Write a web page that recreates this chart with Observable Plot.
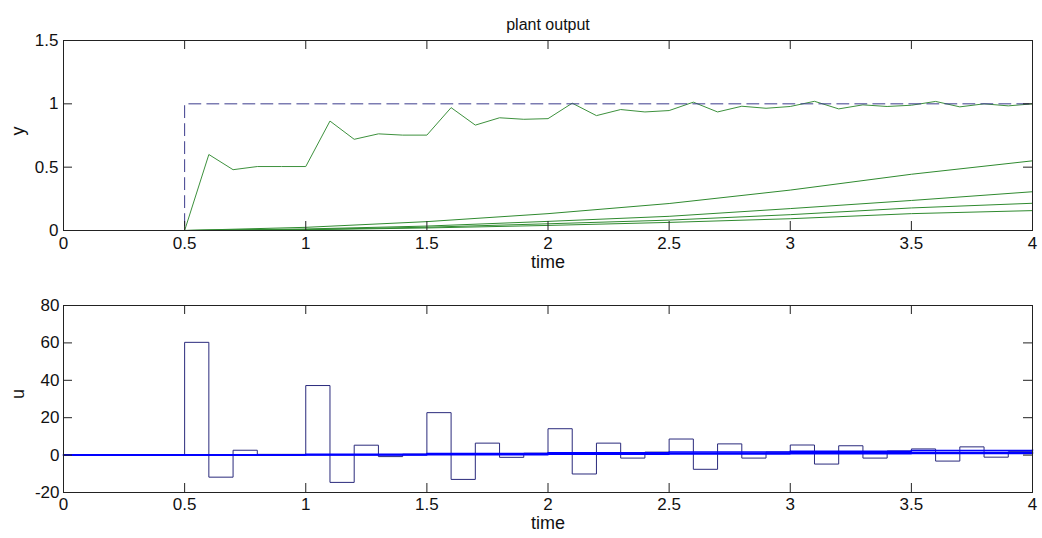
<!DOCTYPE html>
<html>
<head>
<meta charset="utf-8">
<script src="https://cdn.jsdelivr.net/npm/d3@7"></script>
<script src="https://cdn.jsdelivr.net/npm/@observablehq/plot@0.6"></script>
<style>
  html, body { margin: 0; padding: 0; background: #fff; }
  #chart { width: 1042px; height: 538px; overflow: hidden; }
  svg { display: block; }
</style>
</head>
<body>
<div id="chart"></div>
<script>
// ---------- data ----------
const titleText = "plant output";
const xLabel = "time";
const yLabelTop = "y";
const yLabelBottom = "u";

const xTicks = [0, 0.5, 1, 1.5, 2, 2.5, 3, 3.5, 4];
const xTickLabels = ["0", "0.5", "1", "1.5", "2", "2.5", "3", "3.5", "4"];
const yTicksTop = [0, 0.5, 1, 1.5];
const yTickLabelsTop = ["0", "0.5", "1", "1.5"];
const yTicksBottom = [-20, 0, 20, 40, 60, 80];
const yTickLabelsBottom = ["-20", "0", "20", "40", "60", "80"];

// sample times (0.1 s)
const sampleT = [0, 0.1, 0.2, 0.3, 0.4, 0.5, 0.6, 0.7, 0.8, 0.9,
                 1.0, 1.1, 1.2, 1.3, 1.4, 1.5, 1.6, 1.7, 1.8, 1.9,
                 2.0, 2.1, 2.2, 2.3, 2.4, 2.5, 2.6, 2.7, 2.8, 2.9,
                 3.0, 3.1, 3.2, 3.3, 3.4, 3.5, 3.6, 3.7, 3.8, 3.9, 4.0];

// reference (dashed)
const refT = [0, 0.5, 0.5, 4];
const refV = [0, 0, 1, 1];

// main plant output
const yOut = [0, 0, 0, 0, 0, 0, 0.60, 0.48, 0.505, 0.505,
              0.505, 0.864, 0.72, 0.763, 0.753, 0.753, 0.97, 0.832, 0.89, 0.878,
              0.883, 1.005, 0.907, 0.955, 0.936, 0.947, 1.013, 0.936, 0.981, 0.965,
              0.979, 1.02, 0.96, 0.992, 0.979, 0.989, 1.019, 0.976, 1.0, 0.984, 1.0];

// slow plant outputs
const slowT = [0.5, 1.0, 1.5, 2.0, 2.5, 3.0, 3.5, 4.0];
const slowA = [0, 0.025, 0.07, 0.133, 0.213, 0.319, 0.444, 0.55];
const slowB = [0, 0.012, 0.035, 0.072, 0.112, 0.173, 0.237, 0.306];
const slowC = [0, 0.008, 0.026, 0.053, 0.082, 0.125, 0.178, 0.215];
const slowD = [0, 0.006, 0.02, 0.04, 0.064, 0.093, 0.133, 0.157];

// main control signal (zero-order hold)
const uMain = [0, 0, 0, 0, 0, 60.3, -11.8, 2.6, 0.4, 0.4,
               37.2, -14.6, 5.3, -0.8, 0.5, 22.7, -13.0, 6.4, -1.2, 1.0,
               14.1, -10.1, 6.4, -1.6, 1.6, 8.6, -7.6, 6.0, -1.6, 1.6,
               5.4, -4.8, 5.0, -1.6, 2.2, 3.3, -3.2, 4.4, -1.1, 1.8, 1.8];

// slow control signals (thick blue)
const uSlowT = [0, 0.5, 1.0, 1.5, 2.0, 2.5, 3.0, 3.5, 4.0];
const uSlow1 = [0, 0, 0.4, 0.8, 1.2, 1.6, 2.0, 2.4, 2.8];
const uSlow2 = [0, 0, 0.2, 0.45, 0.7, 0.95, 1.2, 1.45, 1.7];
const uSlow3 = [0, 0, 0.1, 0.25, 0.4, 0.55, 0.7, 0.85, 1.0];

// ---------- layout ----------
const W = 1042;
const mL = 63, mR = 10;
const tickLen = 9;
const font = "Liberation Sans, Arial, Helvetica, sans-serif";
const fsTick = 17;
const fsLabel = 18;
const fsTitle = 16;
const frameW = W - mL - mR;

const zip = (xs, ys) => xs.map((x, i) => ({x, y: ys[i]}));
const fmt = (ticks, labels) => d => labels[ticks.indexOf(d)];

function tickMarks(xt, yt, frameH) {
  return [
    Plot.ruleX(xt, {x: d => d, insetTop: frameH - tickLen, stroke: "#222"}),
    Plot.ruleX(xt, {x: d => d, insetBottom: frameH - tickLen, stroke: "#222"}),
    Plot.ruleY(yt, {y: d => d, insetRight: frameW - tickLen, stroke: "#222"}),
    Plot.ruleY(yt, {y: d => d, insetLeft: frameW - tickLen, stroke: "#222"})
  ];
}

// ---------- top plot ----------
const topH = 280, topMT = 40, topMB = 50;
const topFrameH = topH - topMT - topMB;
const green = "#2f8a2f";

const topPlot = Plot.plot({
  width: W, height: topH,
  marginLeft: mL, marginRight: mR, marginTop: topMT, marginBottom: topMB,
  style: {fontFamily: font, background: "#fff", color: "#111"},
  x: {domain: [0, 4]},
  y: {domain: [0, 1.5]},
  marks: [
    Plot.line(zip(slowT, slowD), {x: "x", y: "y", stroke: green, strokeWidth: 1}),
    Plot.line(zip(slowT, slowC), {x: "x", y: "y", stroke: green, strokeWidth: 1}),
    Plot.line(zip(slowT, slowB), {x: "x", y: "y", stroke: green, strokeWidth: 1}),
    Plot.line(zip(slowT, slowA), {x: "x", y: "y", stroke: green, strokeWidth: 1}),
    Plot.line(zip(sampleT, yOut), {x: "x", y: "y", stroke: "#3d913d", strokeWidth: 1}),
    Plot.line(zip(refT, refV), {x: "x", y: "y", stroke: "#3c3c8c", strokeWidth: 1, strokeDasharray: "12,6"}),
    Plot.frame({stroke: "#222", strokeWidth: 1}),
    ...tickMarks(xTicks, yTicksTop, topFrameH),
    Plot.axisX({ticks: xTicks, tickFormat: fmt(xTicks, xTickLabels), tickSize: 0, tickPadding: 6, fontSize: fsTick, label: null, anchor: "bottom"}),
    Plot.axisY({ticks: yTicksTop, tickFormat: fmt(yTicksTop, yTickLabelsTop), tickSize: 0, tickPadding: 5, fontSize: fsTick, label: null, anchor: "left"}),
    Plot.text([titleText], {text: d => d, frameAnchor: "top", dy: -22, fontSize: fsTitle, fill: "#111"}),
    Plot.text([xLabel], {text: d => d, frameAnchor: "bottom", dy: 37, fontSize: fsLabel, fill: "#111"}),
    Plot.text([yLabelTop], {text: d => d, frameAnchor: "left", dx: -45, rotate: -90, fontSize: fsLabel, fill: "#111"})
  ]
});

// ---------- bottom plot ----------
const botH = 258, botMT = 25, botMB = 46;
const botFrameH = botH - botMT - botMB;

const bottomPlot = Plot.plot({
  width: W, height: botH,
  marginLeft: mL, marginRight: mR, marginTop: botMT, marginBottom: botMB,
  style: {fontFamily: font, background: "#fff", color: "#111"},
  x: {domain: [0, 4]},
  y: {domain: [-20, 80]},
  marks: [
    Plot.line(zip(sampleT, uMain), {x: "x", y: "y", curve: "step-after", stroke: "#2a2a7c", strokeWidth: 1}),
    Plot.line(zip(uSlowT, uSlow3), {x: "x", y: "y", curve: "step-after", stroke: "#0000ff", strokeWidth: 1.5}),
    Plot.line(zip(uSlowT, uSlow2), {x: "x", y: "y", curve: "step-after", stroke: "#0000ff", strokeWidth: 1.5}),
    Plot.line(zip(uSlowT, uSlow1), {x: "x", y: "y", curve: "step-after", stroke: "#0000ff", strokeWidth: 1.5}),
    Plot.frame({stroke: "#222", strokeWidth: 1}),
    ...tickMarks(xTicks, yTicksBottom, botFrameH),
    Plot.axisX({ticks: xTicks, tickFormat: fmt(xTicks, xTickLabels), tickSize: 0, tickPadding: 5, fontSize: fsTick, label: null, anchor: "bottom"}),
    Plot.axisY({ticks: yTicksBottom, tickFormat: fmt(yTicksBottom, yTickLabelsBottom), tickSize: 0, tickPadding: 4, fontSize: fsTick, label: null, anchor: "left"}),
    Plot.text([xLabel], {text: d => d, frameAnchor: "bottom", dy: 36, fontSize: fsLabel, fill: "#111"}),
    Plot.text([yLabelBottom], {text: d => d, frameAnchor: "left", dx: -45, rotate: -90, fontSize: fsLabel, fill: "#111"})
  ]
});

const chart = document.getElementById("chart");
chart.appendChild(topPlot);
chart.appendChild(bottomPlot);
</script>
</body>
</html>
